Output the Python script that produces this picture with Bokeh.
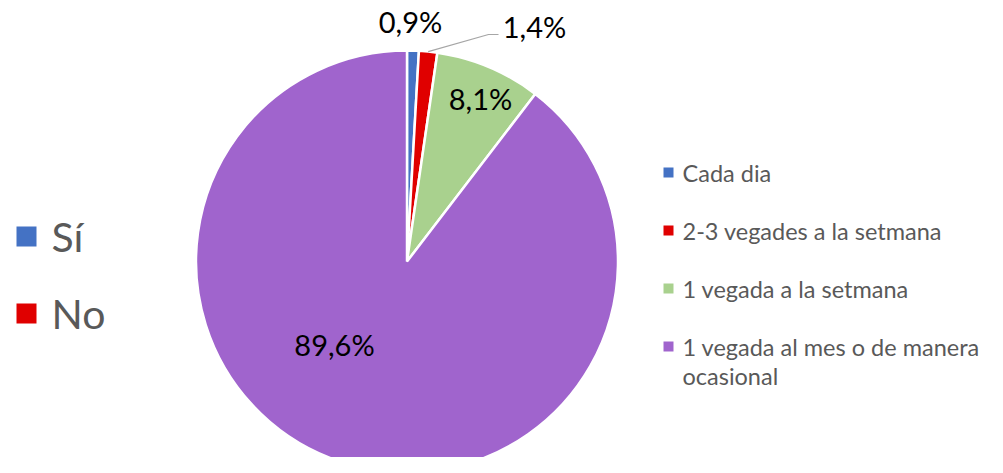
import math
import textwrap
from bokeh.plotting import figure
from bokeh.models import Range1d
from bokeh.core.properties import value
from bokeh.embed import file_html
from bokeh.resources import INLINE

# ---- data ----
categories = ["Cada dia", "2-3 vegades a la setmana", "1 vegada a la setmana",
              "1 vegada al mes o de manera ocasional"]
percentages = [0.9, 1.4, 8.1, 89.6]
colors = ["#4472C4", "#E00000", "#A9D18E", "#A064CD"]
yes_no_labels = ["Sí", "No"]
yes_no_colors = ["#4472C4", "#E00000"]

FONT = "Lato"
W, H = 987, 457
p = figure(width=W, height=H, output_backend="svg", toolbar_location=None,
           x_range=Range1d(0, W), y_range=Range1d(0, H), min_border=0)
p.axis.visible = False
p.grid.visible = False
p.outline_line_color = None
p.background_fill_color = "white"
p.border_fill_color = "white"

def Y(ry):
    return H - ry

cx, cy, R = 406.5, Y(261), 211

# ---- pie ----
total = sum(percentages)
starts, ends, mids = [], [], []
cum = 0.0
for v in percentages:
    a0 = math.pi / 2 - 2 * math.pi * cum / total
    cum += v
    a1 = math.pi / 2 - 2 * math.pi * cum / total
    starts.append(a0); ends.append(a1); mids.append((a0 + a1) / 2)

p.wedge(x=cx, y=cy, radius=R, start_angle=starts, end_angle=ends,
        direction="clock", fill_color=colors, line_color="white", line_width=2.5)

# ---- data labels ----
label_texts = [f"{v:.1f}%".replace(".", ",") for v in percentages]
label_pos = [(410, 21), (534, 26), (480, 98), (334, 344)]
p.text(x=[q[0] for q in label_pos], y=[Y(q[1]) for q in label_pos], text=label_texts,
       text_font=value(FONT), text_font_size="29px", text_color="#000000",
       text_align="center", text_baseline="middle")

# leader line for the 2nd slice
m = mids[1]
lx0, ly0 = cx + R * math.cos(m), cy + R * math.sin(m)
p.line(x=[lx0, 488, 498], y=[ly0, Y(34), Y(34)], line_color="#A6A6A6", line_width=1.2)

# ---- right legend ----
leg_x_sq, leg_x_txt = 668, 682
leg_rows = [172, 230, 288, 346]
for cat, col, ry in zip(categories, colors, leg_rows):
    p.scatter(x=[leg_x_sq], y=[Y(ry)], marker="square", size=10,
              fill_color=col, line_color=None)
    lines = textwrap.wrap(cat, width=28)
    p.text(x=[leg_x_txt] * len(lines), y=[Y(ry + 29 * i) for i in range(len(lines))],
           text=lines, text_font=value(FONT), text_font_size="23.5px",
           text_color="#595959", text_align="left", text_baseline="middle")

# ---- left legend ----
left_rows = [236, 313]
for lab, col, ry in zip(yes_no_labels, yes_no_colors, left_rows):
    p.scatter(x=[26], y=[Y(ry)], marker="square", size=20,
              fill_color=col, line_color=None)
    p.text(x=[51], y=[Y(ry)], text=[lab], text_font=value(FONT),
           text_font_size="41px", text_color="#595959",
           text_align="left", text_baseline="middle")

open("out.html", "w").write(file_html(p, INLINE))
